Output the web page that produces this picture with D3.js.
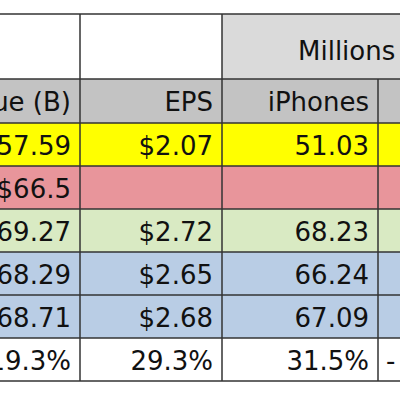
<!DOCTYPE html><html><head><meta charset="utf-8"><script src="https://d3js.org/d3.v7.min.js"></script>
<style>body{margin:0;background:#fff}</style></head><body><svg id="c" width="400" height="400"></svg><script>
const columns = ["Revenue (B)","EPS","iPhones","iPads"];
const rowColors = ["#ffff00","#e8959b","#d9eac3","#b9cde5","#b9cde5","#ffffff"];
const revenue = ["$57.59","$66.5","$69.27","$68.29","$68.71","19.3%"];
const eps = ["$2.07","","$2.72","$2.65","$2.68","29.3%"];
const iphones = ["51.03","","68.23","66.24","67.09","31.5%"];
const ipads = ["","","","","","-"];
const groupLabel = "Millions of units";

const svg = d3.select("#c");
const colEdges = [-80, 80, 222, 378, 540];
const x = i => colEdges[i], w = i => colEdges[i+1]-colEdges[i];
const yRows = d3.scaleBand().domain(d3.range(6)).range([123,381]);
const font = "'DejaVu Sans', Verdana, sans-serif";
const fs = 26;

svg.append("rect").attr("x",-80).attr("y",14).attr("width",302).attr("height",65).attr("fill","#fff");
svg.append("rect").attr("x",222).attr("y",14).attr("width",320).attr("height",65).attr("fill","#dadada");
svg.append("text").attr("x",298).attr("y",60).attr("font-family",font).attr("font-size",fs).attr("fill","#111").text(groupLabel);
columns.forEach((c,i)=>{
  svg.append("rect").attr("x",x(i)).attr("y",79).attr("width",w(i)).attr("height",44).attr("fill","#c3c3c3");
  svg.append("text").attr("x",x(i+1)-9).attr("y",111).attr("text-anchor","end").attr("font-family",font).attr("font-size",fs).attr("fill","#111").text(c);
});
const cols = [revenue, eps, iphones, ipads];
rowColors.forEach((col,r)=>{
  svg.append("rect").attr("x",-80).attr("y",yRows(r)).attr("width",620).attr("height",yRows.bandwidth()).attr("fill",col);
  cols.forEach((arr,i)=>{
    const t = svg.append("text").attr("y",yRows(r)+yRows.bandwidth()/2+10).attr("font-family",font).attr("font-size",fs).attr("fill","#111").text(arr[r]);
    if(i===3) t.attr("x",386); else t.attr("x",x(i+1)-9).attr("text-anchor","end");
  });
});
const ls = "#333";
[14,79,123].concat(d3.range(1,7).map(r=>yRows(r)||381)).forEach(y=>{
  svg.append("line").attr("x1",0).attr("x2",400).attr("y1",y).attr("y2",y).attr("stroke",ls).attr("stroke-width",1.5);
});
[80,222].forEach(xx=>svg.append("line").attr("x1",xx).attr("x2",xx).attr("y1",14).attr("y2",381).attr("stroke",ls).attr("stroke-width",1.5));
svg.append("line").attr("x1",378).attr("x2",378).attr("y1",79).attr("y2",381).attr("stroke",ls).attr("stroke-width",1.5);
</script></body></html>
